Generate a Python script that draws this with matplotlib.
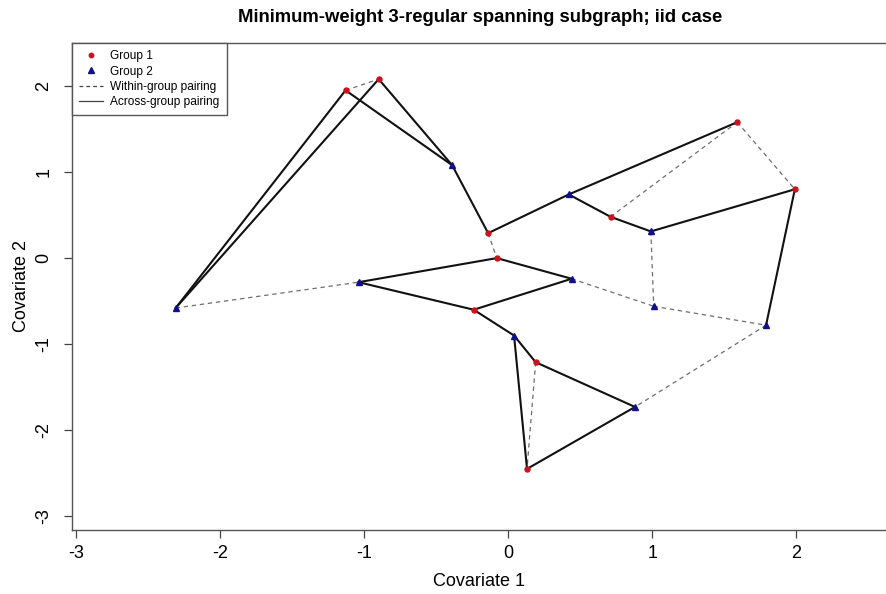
import matplotlib
matplotlib.use("Agg")
import matplotlib.pyplot as plt
from matplotlib.lines import Line2D

plt.rcParams['font.family'] = ['Liberation Sans', 'DejaVu Sans']
plt.rcParams['axes.unicode_minus'] = False

# group 1 (red points)
g1_x = [-1.13, -0.90, -0.14, -0.08, -0.24, 0.19, 0.13, 0.71, 1.59, 1.99]
g1_y = [1.95, 2.08, 0.29, 0.00, -0.60, -1.21, -2.45, 0.48, 1.58, 0.80]
# group 2 (blue triangles)
g2_x = [-2.31, -1.04, -0.39, 0.42, 0.99, 0.44, 1.01, 1.79, 0.04, 0.88]
g2_y = [-0.58, -0.28, 1.08, 0.74, 0.31, -0.24, -0.56, -0.78, -0.90, -1.73]

# node index: 0-9 group 1, 10-19 group 2
within_edges = [(0, 1), (10, 11), (2, 3), (7, 8), (8, 9),
                (14, 16), (15, 16), (16, 17), (17, 19), (5, 6)]
across_edges = [(10, 0), (10, 1), (0, 12), (1, 12), (12, 2), (2, 13),
                (13, 8), (13, 7), (7, 14), (14, 9), (9, 17), (3, 11),
                (3, 15), (11, 4), (4, 15), (4, 18), (18, 5), (18, 6),
                (5, 19), (6, 19)]

xs = g1_x + g2_x
ys = g1_y + g2_y

red = '#C8141E'
blue = '#10108C'

fig = plt.figure(figsize=(8.87, 5.94), dpi=100)
ax = fig.add_axes([72 / 887, 64 / 594, 1 - 72 / 887, 487 / 594])

for i, j in within_edges:
    ax.plot([xs[i], xs[j]], [ys[i], ys[j]], color='#6e6e6e', lw=0.9,
            linestyle=(0, (3.5, 3)), zorder=2)
for i, j in across_edges:
    ax.plot([xs[i], xs[j]], [ys[i], ys[j]], color='#111111', lw=1.5,
            zorder=3)

ax.plot(g1_x, g1_y, 'o', color=red, ms=3.6, mec=red, zorder=4, linestyle='none')
ax.plot(g2_x, g2_y, '^', color=blue, ms=4.2, mec=blue, zorder=4, linestyle='none')

ax.set_xlim(-3.03, 2.63)
ax.set_ylim(-3.16, 2.5)
ax.set_xticks([-3, -2, -1, 0, 1, 2])
ax.set_yticks([-3, -2, -1, 0, 1, 2])
ax.tick_params(axis='both', labelsize=13, length=6, width=0.9, color='#444444')
ax.tick_params(axis='x', pad=5)
ax.tick_params(axis='y', labelrotation=90, pad=8)
for lab in ax.get_yticklabels():
    lab.set_va('center')

for side in ['left', 'bottom', 'top']:
    ax.spines[side].set_color('#555555')
    ax.spines[side].set_linewidth(1.0)
ax.spines['right'].set_visible(False)

ax.set_xlabel('Covariate 1', fontsize=13, labelpad=8)
ax.set_ylabel('Covariate 2', fontsize=13, labelpad=4)
fig.text(480 / 887, 1 - 17 / 594, 'Minimum-weight 3-regular spanning subgraph; iid case',
         fontsize=13.3, fontweight='bold', ha='center', va='center')

handles = [
    Line2D([], [], marker='o', color=red, linestyle='none', ms=3.2),
    Line2D([], [], marker='^', color=blue, linestyle='none', ms=3.8),
    Line2D([], [], color='#444444', lw=0.9, linestyle=(0, (3, 2.5))),
    Line2D([], [], color='#444444', lw=0.9),
]
labels = ['Group 1', 'Group 2', 'Within-group pairing', 'Across-group pairing']
leg = ax.legend(handles, labels, loc='upper left', bbox_to_anchor=(0, 1),
                borderaxespad=0, fontsize=8.6, frameon=True, fancybox=False,
                framealpha=1, edgecolor='#555555', handlelength=2.0,
                handletextpad=0.6, labelspacing=0.28, borderpad=0.6)
leg.get_frame().set_linewidth(1.0)

fig.savefig('out.png', dpi=100)
